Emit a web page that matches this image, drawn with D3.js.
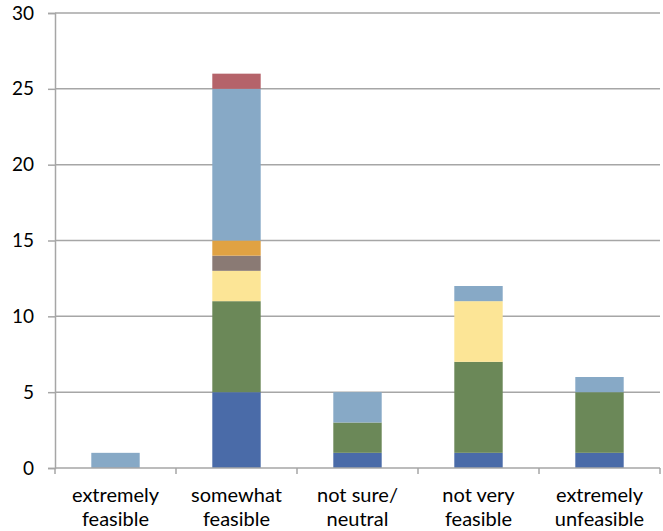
<!DOCTYPE html>
<html>
<head>
<meta charset="utf-8">
<script src="https://cdn.jsdelivr.net/npm/d3@7"></script>
<style>
    body { margin: 0; background: #fff; }
    svg text { font-family: Lato, "Open Sans", sans-serif; fill: #000; }
</style>
</head>
<body>
<svg width="663" height="531"></svg>
<script>
// categories and stacked series, bottom to top
const categories = [
    ["extremely", "feasible"],
    ["somewhat", "feasible"],
    ["not sure/", "neutral"],
    ["not very", "feasible"],
    ["extremely", "unfeasible"]
];
const s1 = [0, 5, 1, 1, 1];
const s2 = [0, 6, 2, 6, 4];
const s3 = [0, 2, 0, 4, 0];
const s4 = [0, 1, 0, 0, 0];
const s5 = [0, 1, 0, 0, 0];
const s6 = [1, 10, 2, 1, 1];
const s7 = [0, 1, 0, 0, 0];
const yTicks = [0, 5, 10, 15, 20, 25, 30];

const colors = ["#4a6ba8", "#6b8858", "#fce596", "#8a7a74", "#e0a243", "#87a9c6", "#b5636a"];
const seriesList = [s1, s2, s3, s4, s5, s6, s7];

const rows = categories.map((c, i) => {
    const r = { key: i };
    seriesList.forEach((s, k) => { r["s" + k] = s[i]; });
    return r;
});
const keys = seriesList.map((s, k) => "s" + k);
const stacked = d3.stack().keys(keys)(rows);

const svg = d3.select("svg");
const plotLeft = 55, plotRight = 660, plotTop = 13, plotBottom = 468;

const x = d3.scaleBand().domain(d3.range(categories.length)).range([plotLeft, plotRight]).paddingInner(0.6).paddingOuter(0.3);
const y = d3.scaleLinear().domain([0, 30]).range([plotBottom, plotTop]);

// grid
svg.append("g")
    .selectAll("line")
    .data(yTicks.slice(1))
    .join("line")
    .attr("x1", plotLeft).attr("x2", plotRight)
    .attr("y1", d => y(d)).attr("y2", d => y(d))
    .style("stroke", "#a6a6a6")
    .style("stroke-width", 1.5);

// bars
svg.append("g")
    .selectAll("g")
    .data(stacked)
    .join("g")
    .attr("fill", (d, i) => colors[i])
    .selectAll("rect")
    .data(d => d)
    .join("rect")
    .attr("x", (d, i) => x(i))
    .attr("width", x.bandwidth())
    .attr("y", d => y(d[1]))
    .attr("height", d => y(d[0]) - y(d[1]));

// y axis
const yAxis = svg.append("g")
    .attr("transform", "translate(" + plotLeft + ",0)")
    .call(d3.axisLeft(y).tickValues(yTicks).tickSize(7).tickPadding(14));
yAxis.select(".domain").style("stroke", "#a6a6a6").style("stroke-width", 1.5);
yAxis.selectAll(".tick line").style("stroke", "#a6a6a6").style("stroke-width", 1.5);
yAxis.selectAll("text").style("font-size", "19px").style("fill", "#000");

// x axis with boundary ticks
const xAxis = svg.append("g");
xAxis.append("line")
    .attr("x1", plotLeft).attr("x2", plotRight)
    .attr("y1", plotBottom).attr("y2", plotBottom)
    .style("stroke", "#a6a6a6").style("stroke-width", 1.5);
const bounds = d3.range(categories.length + 1).map(i => plotLeft + i * (plotRight - plotLeft) / categories.length);
xAxis.selectAll(".bt")
    .data(bounds)
    .join("line")
    .attr("x1", d => d).attr("x2", d => d)
    .attr("y1", plotBottom).attr("y2", plotBottom + 6)
    .style("stroke", "#a6a6a6").style("stroke-width", 1.5);

const labels = svg.append("g")
    .selectAll("text")
    .data(categories)
    .join("text")
    .attr("text-anchor", "middle")
    .style("font-size", "20px");
labels.each(function (d, i) {
    const t = d3.select(this);
    d.forEach((line, j) => {
        t.append("tspan")
            .attr("x", x(i) + x.bandwidth() / 2)
            .attr("y", 502 + j * 24)
            .text(line);
    });
});
</script>
</body>
</html>
